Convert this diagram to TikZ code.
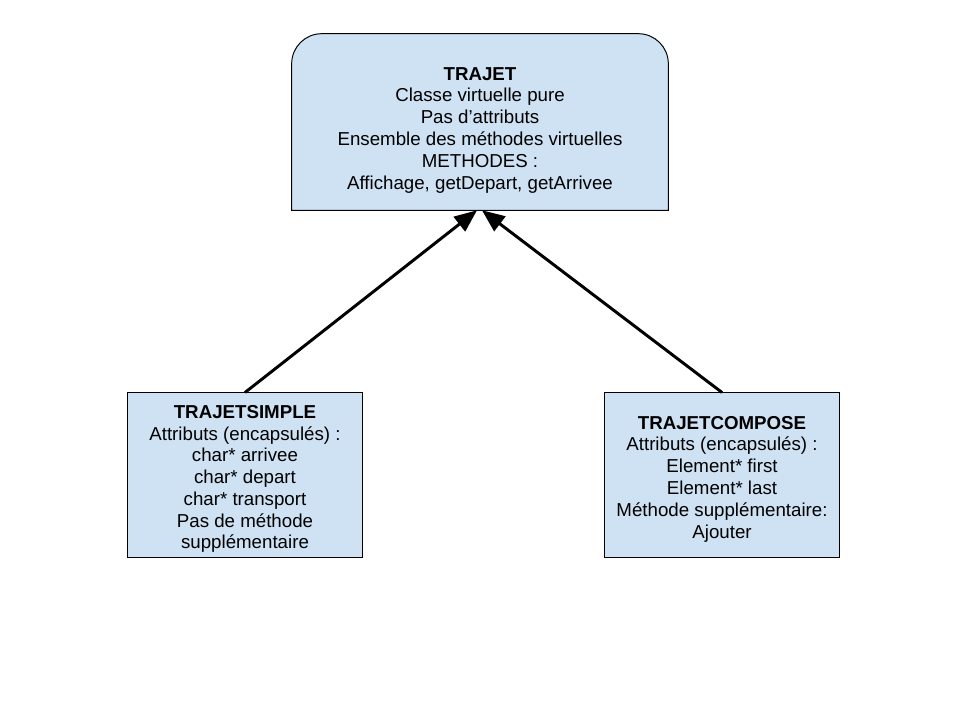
\documentclass[tikz,border=0pt]{standalone}
\usepackage{fontspec}
\setmainfont{Liberation Sans}
\usetikzlibrary{arrows.meta,backgrounds}
\definecolor{boxblue}{HTML}{CFE2F3}
\newcommand{\classname}[2][15pt]{\rule{0pt}{#1}\textbf{#2}}
\begin{document}
\begin{tikzpicture}[x=0.025cm,y=-0.025cm,
	classbox/.style={align=center, inner sep=0pt, font=\fontsize{13.3}{15.5}\selectfont},
	leafbox/.style={classbox, draw=black, line width=0.7pt, fill=boxblue, minimum width=5.85cm, minimum height=4.1cm},
	inherit/.style={-{Triangle[length=16pt,width=13pt]}, line width=2.1pt}]
			\useasboundingbox (0,0) rectangle (960,720);
			
			\node[classbox, minimum width=9.4cm, minimum height=4.4cm] (trajet) at (480,122)
				{\classname[20.7pt]{TRAJET}\\Classe virtuelle pure\\Pas d'attributs\\Ensemble des méthodes virtuelles\\METHODES :\\Affichage, getDepart, getArrivee};
			\begin{scope}[on background layer]
				\path[draw=black,line width=0.7pt,fill=boxblue] (trajet.south) -- (trajet.south west) [rounded corners=0.75cm] -- (trajet.north west) -- (trajet.north east) [sharp corners] -- (trajet.south east) -- cycle;
			\end{scope}
			
			\node[leafbox] (simple) at (245,475)
				{\classname{TRAJETSIMPLE}\\Attributs (encapsulés) :\\char* arrivee\\char* depart\\char* transport\\Pas de méthode\\supplémentaire};
			\node[leafbox] (compose) at (722,475)
				{\classname{TRAJETCOMPOSE}\\Attributs (encapsulés) :\\Element* first\\Element* last\\Méthode supplémentaire:\\Ajouter};
			
			\draw[inherit] (simple.north) -- ([xshift=-0.075cm]trajet.south);
			\draw[inherit] (compose.north) -- ([xshift=0.05cm]trajet.south);
			\end{tikzpicture}
\end{document}
